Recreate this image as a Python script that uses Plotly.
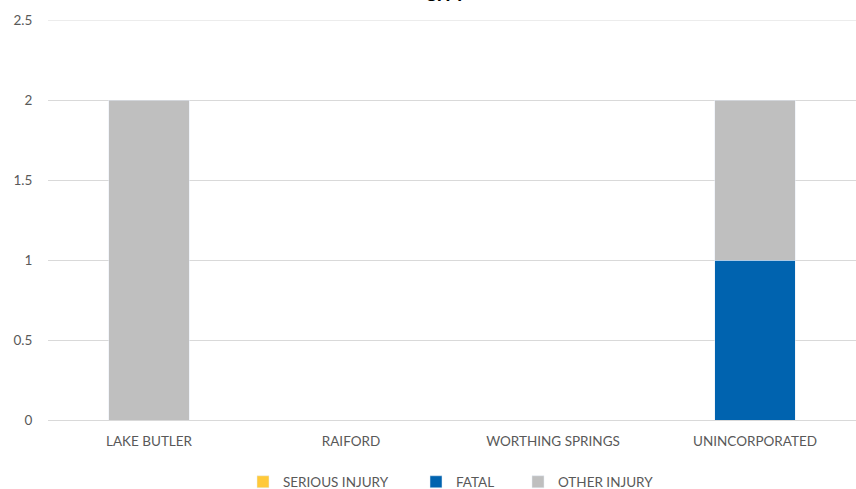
import plotly.graph_objects as go

categories = ["LAKE BUTLER", "RAIFORD", "WORTHING SPRINGS", "UNINCORPORATED"]
serious_injury = [0, 0, 0, 0]
fatal = [0, 0, 0, 1]
other_injury = [2, 0, 0, 1]

font_family = "Lato, 'Open Sans', sans-serif"
PL, PR = 48, 856
def px_to_paper(px):
    return (px - PL) / (PR - PL)

fig = go.Figure()
fig.add_trace(go.Bar(name="SERIOUS INJURY", x=categories, y=serious_injury, marker_color="#FFC939", legend="legend"))
fig.add_trace(go.Bar(name="FATAL", x=categories, y=fatal, marker_color="#0063AF", legend="legend2"))
fig.add_trace(go.Bar(name="OTHER INJURY", x=categories, y=other_injury, marker_color="#BFBFBF", legend="legend3"))

leg_common = dict(orientation="h", xanchor="left", y=-0.155, yanchor="middle",
                  font=dict(size=13.5, color="#595959"), itemwidth=30, bgcolor="rgba(0,0,0,0)")

fig.update_layout(
    barmode="stack",
    bargap=0.6,
    width=856, height=489,
    margin=dict(l=PL, r=0, t=20, b=69, autoexpand=False),
    plot_bgcolor="white", paper_bgcolor="white",
    font=dict(family=font_family, size=13.5, color="#595959"),
    showlegend=True,
    legend=dict(x=px_to_paper(243), **leg_common),
    legend2=dict(x=px_to_paper(416), **leg_common),
    legend3=dict(x=px_to_paper(518), **leg_common),
    xaxis=dict(showgrid=False, showline=False, ticks="outside", ticklen=9, tickcolor="white",
               tickfont=dict(size=13.5, color="#595959"), automargin=False),
    yaxis=dict(range=[0, 2.5], dtick=0.5, showgrid=True, gridcolor="#D9D9D9", gridwidth=1,
               zeroline=True, zerolinecolor="#D9D9D9", zerolinewidth=1,
               ticks="outside", ticklen=12, tickcolor="white", automargin=False,
               tickfont=dict(size=13.5, color="#595959")),
)
fig.add_shape(type="line", xref="paper", yref="y", x0=0, x1=1, y0=2.5, y1=2.5,
              line=dict(color="#D9D9D9", width=1), layer="below")
fig.add_annotation(text="<b>CITY</b>", xref="paper", yref="paper", x=px_to_paper(445.5), y=1.067,
                   showarrow=False, font=dict(size=19, color="#000000", family=font_family),
                   yanchor="middle")
fig.write_html("out.html", config={"displayModeBar": False},
               post_script="document.body.style.margin='0';document.body.style.overflow='hidden';")
